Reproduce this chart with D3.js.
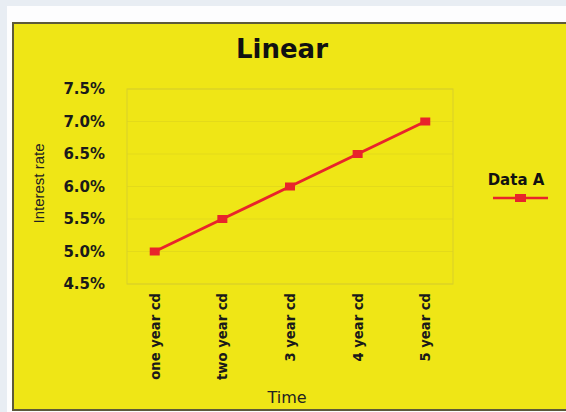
<!DOCTYPE html>
<html>
<head>
<meta charset="utf-8">
<script src="https://cdn.jsdelivr.net/npm/d3@7"></script>
<style>
  html, body { margin: 0; padding: 0; background: #e8edf3; }
  svg { display: block; font-family: "DejaVu Sans", sans-serif; }
</style>
</head>
<body>
<div id="chart"></div>
<script>
const categories = ["one year cd", "two year cd", "3 year cd", "4 year cd", "5 year cd"];
const dataA = [5.0, 5.5, 6.0, 6.5, 7.0];
const yTicks = [4.5, 5.0, 5.5, 6.0, 6.5, 7.0, 7.5];
const seriesName = "Data A";

const width = 566, height = 412;
const plot = { left: 127, right: 453, top: 89, bottom: 284 };
const yellow = "#efe616";
const red = "#e8242b";
const boldFont = "DejaVu Sans, sans-serif";

const svg = d3.select("#chart").append("svg").attr("width", width).attr("height", height);

// white card behind the yellow panel
svg.append("rect").attr("x", 7).attr("y", 6).attr("width", width).attr("height", height).attr("fill", "#fdfdfe");
svg.append("rect").attr("x", 13).attr("y", 23).attr("width", width).attr("height", 387)
  .attr("fill", yellow).attr("stroke", "#5d5a3a").attr("stroke-width", 2);

const xScale = d3.scalePoint().domain(categories).range([plot.left, plot.right]).padding(0.41);
const yScale = d3.scaleLinear().domain([4.5, 7.5]).range([plot.bottom, plot.top]);

// gridlines
svg.append("g").selectAll("line").data(yTicks).join("line")
  .attr("x1", plot.left).attr("x2", plot.right)
  .attr("y1", d => yScale(d)).attr("y2", d => yScale(d))
  .attr("stroke", "#e3da1a").attr("stroke-width", 1);
svg.append("rect").attr("x", plot.left).attr("y", plot.top)
  .attr("width", plot.right - plot.left).attr("height", plot.bottom - plot.top)
  .attr("fill", "none").attr("stroke", "#d8cf2a").attr("stroke-width", 1);

// y axis
const yAxis = d3.axisLeft(yScale).tickValues(yTicks).tickSize(0).tickPadding(22)
  .tickFormat(d => d.toFixed(1) + "%");
const yg = svg.append("g").attr("transform", `translate(${plot.left},0)`).call(yAxis);
yg.select(".domain").remove();
yg.selectAll("text").attr("font-size", 15).attr("font-weight", "bold").attr("fill", "#1a1a1a")
  .attr("font-family", boldFont);

// x axis
const xAxis = d3.axisBottom(xScale).tickSize(0).tickPadding(0);
const xg = svg.append("g").attr("transform", `translate(0,${plot.bottom})`).call(xAxis);
xg.select(".domain").remove();
xg.selectAll("text")
  .attr("transform", "rotate(-90)")
  .attr("text-anchor", "end")
  .attr("x", -9).attr("y", 0).attr("dy", "0.35em")
  .attr("font-size", 13.2).attr("font-weight", "bold").attr("fill", "#1a1a1a")
  .attr("font-family", boldFont);

// line
const line = d3.line().x((d, i) => xScale(categories[i])).y(d => yScale(d));
svg.append("path").datum(dataA).attr("d", line)
  .attr("fill", "none").attr("stroke", red).attr("stroke-width", 3);
svg.append("g").selectAll("rect").data(dataA).join("rect")
  .attr("x", (d, i) => xScale(categories[i]) - 5).attr("y", d => yScale(d) - 4)
  .attr("width", 10).attr("height", 8).attr("fill", red);

// titles
svg.append("text").attr("x", 282).attr("y", 58).attr("text-anchor", "middle")
  .attr("font-size", 26).attr("font-weight", "bold").attr("fill", "#111").text("Linear");
svg.append("text").attr("transform", `translate(44,${(plot.top + plot.bottom) / 2 - 3}) rotate(-90)`)
  .attr("text-anchor", "middle").attr("font-size", 15).attr("fill", "#222")
  .attr("font-family", "Liberation Sans, Arial, sans-serif").text("Interest rate");
svg.append("text").attr("x", 287).attr("y", 403).attr("text-anchor", "middle")
  .attr("font-size", 16).attr("fill", "#222").text("Time");

// legend
const legend = svg.append("g").attr("transform", "translate(493,198)");
legend.append("text").attr("x", 23).attr("y", -13).attr("text-anchor", "middle")
  .attr("font-size", 15).attr("font-weight", "bold").attr("fill", "#111").text(seriesName);
legend.append("line").attr("x1", 0).attr("x2", 55).attr("y1", 0).attr("y2", 0)
  .attr("stroke", red).attr("stroke-width", 2.5);
legend.append("rect").attr("x", 22).attr("y", -4).attr("width", 11).attr("height", 8).attr("fill", red);
</script>
</body>
</html>
